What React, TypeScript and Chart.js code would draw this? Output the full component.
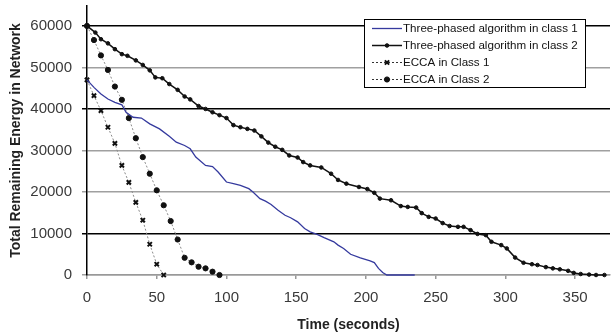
import React, { useEffect, useRef } from 'react';
import { Chart, registerables } from 'chart.js';
import { drawPoint } from 'chart.js/helpers';

Chart.register(...registerables);

const seriesLabels = [
  'Three-phased algorithm in class 1',
  'Three-phased algorithm in class 2',
  'ECCA in Class 1',
  'ECCA in Class 2',
];

const xTickValues = [0, 50, 100, 150, 200, 250, 300, 350];
const yTickValues = [0, 10000, 20000, 30000, 40000, 50000, 60000];
const darkGridValues = [60000, 40000, 10000];

const tp1Time = [0, 5, 10, 15, 20, 25, 28, 33, 39, 45, 52, 59, 64, 70, 74, 78, 85, 90, 94, 100, 105, 110, 116, 119, 124, 128, 132, 137, 142, 146, 151, 156, 160, 165, 170, 177, 180, 184, 189, 196, 203, 206, 209, 212, 215, 235];
const tp1Energy = [47000, 45200, 43600, 42400, 41600, 41000, 39200, 38000, 37800, 36400, 35200, 33400, 32000, 31200, 30400, 28400, 26400, 26100, 24800, 22400, 22000, 21600, 20800, 20000, 18400, 17800, 17000, 15600, 14400, 13800, 12800, 11200, 10400, 9800, 9000, 8000, 7200, 6400, 5000, 4100, 3400, 3000, 1600, 600, 0, 0];

const tp2Time = [0, 6, 10, 15, 20, 25, 29, 35, 40, 45, 49, 54, 59, 65, 70, 74, 80, 85, 90, 95, 100, 105, 110, 115, 120, 125, 130, 135, 140, 145, 151, 155, 160, 168, 175, 180, 186, 195, 201, 206, 210, 218, 225, 230, 236, 240, 245, 250, 255, 260, 266, 270, 275, 280, 286, 290, 297, 301, 307, 313, 319, 323, 329, 334, 339, 345, 349, 354, 360, 365, 371];
const tp2Energy = [60000, 58400, 56800, 55800, 54400, 53200, 52800, 51700, 50600, 49300, 47600, 47400, 46000, 44600, 43000, 42300, 40700, 40000, 39200, 38500, 37800, 36100, 35600, 35200, 34800, 33400, 31900, 30900, 30150, 28800, 28300, 27200, 26400, 25900, 24400, 22900, 22000, 21200, 20700, 19800, 18400, 18000, 16600, 16400, 16250, 14900, 14000, 13600, 12500, 11800, 11600, 11600, 10800, 9900, 9600, 8000, 7200, 6400, 4200, 2950, 2600, 2400, 1900, 1600, 1370, 1000, 500, 240, 100, 0, 0];

const ecca1Time = [0, 5, 10, 15, 20, 25, 30, 35, 40, 45, 50, 55];
const ecca1Energy = [47000, 43200, 39600, 35600, 31700, 26400, 22300, 17500, 13200, 7400, 2600, 0];

const ecca2Time = [0, 5, 10, 15, 20, 25, 30, 35, 40, 45, 50, 55, 60, 65, 70, 75, 80, 85, 90, 95];
const ecca2Energy = [60000, 56600, 52900, 49400, 45400, 42200, 37800, 32950, 28400, 24400, 20400, 16800, 13000, 8550, 4150, 3050, 2000, 1600, 800, 0];

const toPoints = (xs: number[], ys: number[]) => xs.map((x, i) => ({ x, y: ys[i] }));

const FONT = '"Liberation Sans", Arial, sans-serif';

const boxLegend = {
  id: 'boxLegend',
  afterDraw(chart: any) {
    const { ctx, chartArea } = chart;
    const w = 221;
    const h = 68;
    const x0 = Math.round(chartArea.right - 246);
    const y0 = Math.round(chartArea.top + 13);
    ctx.save();
    ctx.fillStyle = '#ffffff';
    ctx.fillRect(x0, y0, w, h);
    ctx.strokeStyle = '#000';
    ctx.lineWidth = 1;
    ctx.strokeRect(x0 + 0.5, y0 + 0.5, w, h);
    chart.data.datasets.forEach((ds: any, i: number) => {
      const cy = y0 + 9.5 + i * 17;
      ctx.save();
      ctx.strokeStyle = ds.legendLineColor || ds.borderColor;
      ctx.lineWidth = ds.borderWidth;
      ctx.setLineDash(ds.borderDash || []);
      ctx.beginPath();
      ctx.moveTo(x0 + 8, cy);
      ctx.lineTo(x0 + 38, cy);
      ctx.stroke();
      ctx.setLineDash([]);
      if (ds.pointRadius > 0) {
        ctx.fillStyle = ds.pointBackgroundColor;
        ctx.strokeStyle = ds.pointBorderColor;
        ctx.lineWidth = ds.pointBorderWidth;
        drawPoint(ctx, { pointStyle: ds.pointStyle, radius: ds.pointRadius, borderWidth: ds.pointBorderWidth, rotation: 0 }, x0 + 23, cy);
      }
      ctx.restore();
      ctx.fillStyle = '#111';
      ctx.font = `11.6px ${FONT}`;
      ctx.textBaseline = 'middle';
      ctx.textAlign = 'left';
      ctx.fillText(ds.label, x0 + 39, cy + 0.5);
    });
    ctx.restore();
  },
};

export default function App() {
  const ref = useRef<HTMLCanvasElement>(null);
  useEffect(() => {
    document.body.style.margin = '0';
    document.body.style.overflow = 'hidden';
    const canvas = ref.current!;
    const chart = new Chart(canvas, {
      type: 'line',
      data: {
        datasets: [
          {
            label: seriesLabels[0],
            data: toPoints(tp1Time, tp1Energy),
            borderColor: '#353a9e',
            borderWidth: 1.3,
            pointRadius: 0,
            tension: 0,
            clip: false,
          } as any,
          {
            label: seriesLabels[1],
            data: toPoints(tp2Time, tp2Energy),
            borderColor: '#111',
            borderWidth: 1.5,
            pointRadius: 1.8,
            pointStyle: 'circle',
            pointBackgroundColor: '#111',
            pointBorderColor: '#111',
            pointBorderWidth: 1,
            clip: false,
          },
          {
            label: seriesLabels[2],
            data: toPoints(ecca1Time, ecca1Energy),
            borderColor: '#8a8a8a',
            legendLineColor: '#333',
            borderWidth: 1,
            borderDash: [2, 2],
            pointRadius: 3,
            pointStyle: 'crossRot',
            pointBackgroundColor: '#111',
            pointBorderColor: '#111',
            pointBorderWidth: 2,
            clip: false,
          },
          {
            label: seriesLabels[3],
            data: toPoints(ecca2Time, ecca2Energy),
            borderColor: '#8a8a8a',
            legendLineColor: '#333',
            borderWidth: 1,
            borderDash: [2, 2],
            pointRadius: 2.6,
            pointStyle: 'circle',
            pointBackgroundColor: '#111',
            pointBorderColor: '#111',
            pointBorderWidth: 1,
            clip: false,
          },
        ] as any,
      },
      options: {
        responsive: false,
        animation: false,
        layout: { padding: { top: 5, right: 0, bottom: 0, left: 0 } },
        plugins: {
          legend: { display: false },
          tooltip: { enabled: false },
        },
        scales: {
          x: {
            type: 'linear',
            min: 0,
            max: 375,
            afterBuildTicks: (s: any) => {
              s.ticks = xTickValues.map((v) => ({ value: v }));
            },
            afterFit: (s: any) => {
              s.height = 59;
              s.paddingLeft = 0;
              s.paddingRight = 0;
            },
            ticks: {
              color: '#3a3a3a',
              font: { family: FONT, size: 15 },
              padding: 10,
              maxRotation: 0,
              autoSkip: false,
              callback: (v: any) => String(v),
            },
            grid: { drawOnChartArea: false, tickLength: 4, color: '#999', lineWidth: 1.5 },
            border: { display: true, color: '#999', width: 1.5 },
            title: {
              display: true,
              text: 'Time (seconds)',
              color: '#222',
              font: { family: FONT, size: 14, weight: 'bold' },
              padding: { top: 0, bottom: 0 },
            },
          },
          y: {
            type: 'linear',
            min: 0,
            max: 64800,
            afterBuildTicks: (s: any) => {
              s.ticks = yTickValues.map((v) => ({ value: v }));
            },
            afterFit: (s: any) => {
              s.width = 87;
              s.paddingTop = 0;
              s.paddingBottom = 0;
            },
            ticks: {
              color: '#3a3a3a',
              font: { family: FONT, size: 15 },
              padding: 10,
              autoSkip: false,
              callback: (v: any) => String(v),
            },
            grid: {
              tickLength: 5,
              color: (c: any) => (c.tick && darkGridValues.includes(c.tick.value) ? '#000' : '#a0a0a0'),
              lineWidth: 1.5,
            },
            border: { display: true, color: '#000', width: 1.5 },
            title: {
              display: true,
              text: 'Total Remaining Energy in Network',
              color: '#222',
              font: { family: FONT, size: 14, weight: 'bold' },
              padding: { top: 8, bottom: 0 },
            },
          },
        },
      } as any,
      plugins: [boxLegend],
    });
    return () => chart.destroy();
  }, []);
  return (
    <div style={{ width: 616, height: 334 }}>
      <canvas ref={ref} width={616} height={334} style={{ display: 'block' }} />
    </div>
  );
}
